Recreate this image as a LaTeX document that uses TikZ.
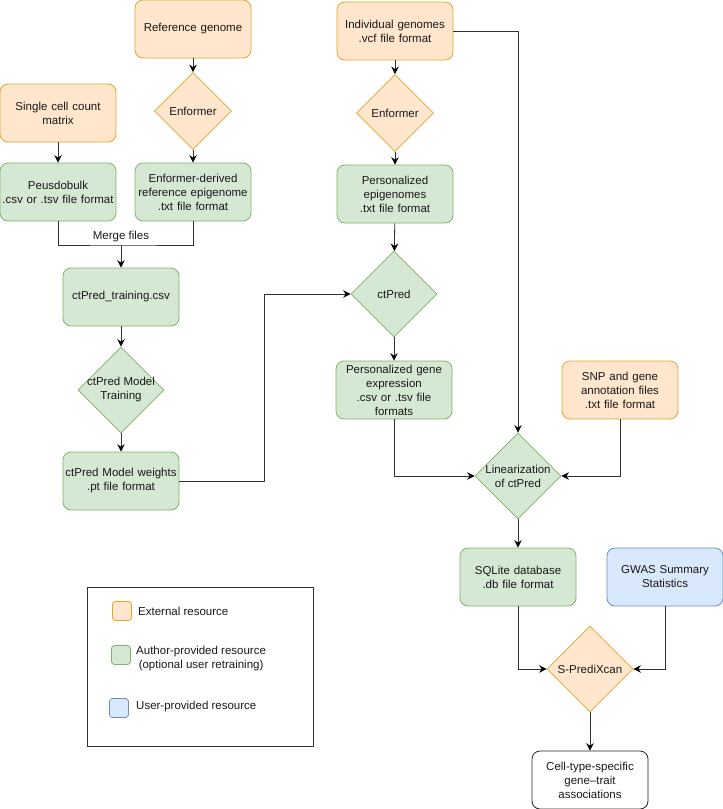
\documentclass[tikz,border=0pt]{standalone}
\usepackage{fontspec}
\setmainfont{Liberation Sans}
\usetikzlibrary{shapes.geometric,arrows.meta}
\definecolor{extfill}{HTML}{FFE6CC}
\definecolor{extline}{HTML}{D9A830}
\definecolor{authfill}{HTML}{D5E8D4}
\definecolor{authline}{HTML}{82B366}
\definecolor{userfill}{HTML}{DAE8FC}
\definecolor{userline}{HTML}{6C8EBF}
\definecolor{wire}{HTML}{333333}
\tikzset{
  txt/.style={font=\fontsize{11.5}{14}\selectfont, text=black!90},
  res/.style={txt, rectangle, rounded corners=8pt, minimum width=116pt, minimum height=58pt,
    text width=112pt, align=center, inner sep=0pt, line width=0.8pt},
  extres/.style={res, draw=extline, fill=extfill},
  authres/.style={res, draw=authline, fill=authfill},
  userres/.style={res, draw=userline, fill=userfill},
  plainres/.style={res, draw=black!85},
  proc/.style={diamond, minimum width=86pt, minimum height=86pt, inner sep=0pt, line width=0.8pt},
  smallproc/.style={proc, minimum width=77pt, minimum height=77pt},
  proctext/.style={txt, align=center, inner sep=0pt},
  keybox/.style={rectangle, rounded corners=3pt, minimum size=19pt, inner sep=0pt, line width=0.8pt},
  wire/.style={draw=wire, line width=0.8pt},
  flow/.style={wire, -{Stealth[length=7.5pt,width=7.5pt,inset=2.5pt,color=black]}}
}
\begin{document}
\begin{tikzpicture}[x=1pt,y=-1pt]
  \useasboundingbox (0,0) rectangle (723,809);
  % left branch: reference genome and training
  \node[extres] (refgen) at (193,29) {Reference genome};
  \node[smallproc, draw=extline, fill=extfill] (enf1) at (193,111) {};
  \node[proctext] (enf1-t) at (enf1) {Enformer};
  \node[extres] (scmat) at (58,113) {Single cell count\\matrix};
  \node[authres] (pseudo) at (58,192) {Peusdobulk\\.csv or .tsv file format};
  \node[authres] (refepi) at (193,192) {Enformer-derived\\reference epigenome\\.txt file format};
  \node[authres] (train) at (121,297) {ctPred\_training.csv};
  \node[proc, draw=authline, fill=authfill] (trainmodel) at (121,390) {};
  \node[proctext] (trainmodel-t) at (trainmodel) {ctPred Model\\Training};
  \node[authres] (weights) at (121,481) {ctPred Model weights\\.pt file format};
  % middle branch: personalized prediction
  \node[extres] (indiv) at (395,31) {Individual genomes\\.vcf file format};
  \node[smallproc, draw=extline, fill=extfill] (enf2) at (395,113) {};
  \node[proctext] (enf2-t) at (enf2) {Enformer};
  \node[authres] (persepi) at (395,194) {Personalized\\epigenomes\\.txt file format};
  \node[proc, draw=authline, fill=authfill] (ctpred) at (394,294) {};
  \node[proctext] (ctpred-t) at (ctpred) {ctPred};
  \node[authres] (persexpr) at (394,390) {Personalized gene\\expression\\.csv or .tsv file\\formats};
  \node[extres] (snp) at (620,390) {SNP and gene\\annotation files\\.txt file format};
  \node[proc, draw=authline, fill=authfill] (linear) at (518,476) {};
  \node[proctext] (linear-t) at (linear) {Linearization\\of ctPred};
  % association step
  \node[authres] (sqlite) at (518,577) {SQLite database\\.db file format};
  \node[userres] (gwas) at (665,577) {GWAS Summary\\Statistics};
  \node[proc, draw=extline, fill=extfill] (spx) at (590,669) {};
  \node[proctext] (spx-t) at (spx) {S-PrediXcan};
  \node[plainres] (assoc) at (590,780) {Cell-type-specific\\gene--trait\\associations};
  % connectors
  \draw[flow] (refgen) -- (enf1);
  \draw[flow] (enf1) -- (refepi);
  \draw[flow] (scmat) -- (pseudo);
  \coordinate (merge) at (train.north |- 0,245);
  \draw[wire] (pseudo.south) |- (merge) -| (refepi.south);
  \draw[flow] (merge) -- (train.north);
  \node[txt, anchor=south, inner sep=3pt] (merge-t) at (merge) {Merge files};
  \draw[flow] (train) -- (trainmodel);
  \draw[flow] (trainmodel) -- (weights);
  \draw[flow] (weights.east) -- ++(85,0) |- (ctpred.west);
  \draw[flow] (indiv) -- (enf2);
  \draw[flow] (enf2) -- (persepi);
  \draw[flow] (persepi) -- (ctpred);
  \draw[flow] (ctpred) -- (persexpr);
  \draw[flow] (indiv.east) -| (linear.north);
  \draw[flow] (persexpr.south) |- (linear.west);
  \draw[flow] (snp.south) |- (linear.east);
  \draw[flow] (linear) -- (sqlite);
  \draw[flow] (sqlite.south) |- (spx.west);
  \draw[flow] (gwas.south) |- (spx.east);
  \draw[flow] (spx) -- (assoc);
  % legend
  \node[draw=wire, line width=0.8pt, minimum width=226pt, minimum height=159pt, inner sep=0pt] (legend) at (200,666.5) {};
  \node[keybox, draw=extline, fill=extfill] (key-ext) at (122,611) {};
  \node[txt, anchor=west, inner sep=0pt] (key-ext-t) at (138,611) {External resource};
  \node[keybox, draw=authline, fill=authfill] (key-auth) at (121,655) {};
  \node[txt, anchor=west, align=center, inner sep=0pt] (key-auth-t) at (136,659) {Author-provided resource\\(optional user retraining)};
  \node[keybox, draw=userline, fill=userfill] (key-user) at (119,708) {};
  \node[txt, anchor=west, inner sep=0pt] (key-user-t) at (136,707) {User-provided resource};
\end{tikzpicture}
\end{document}
